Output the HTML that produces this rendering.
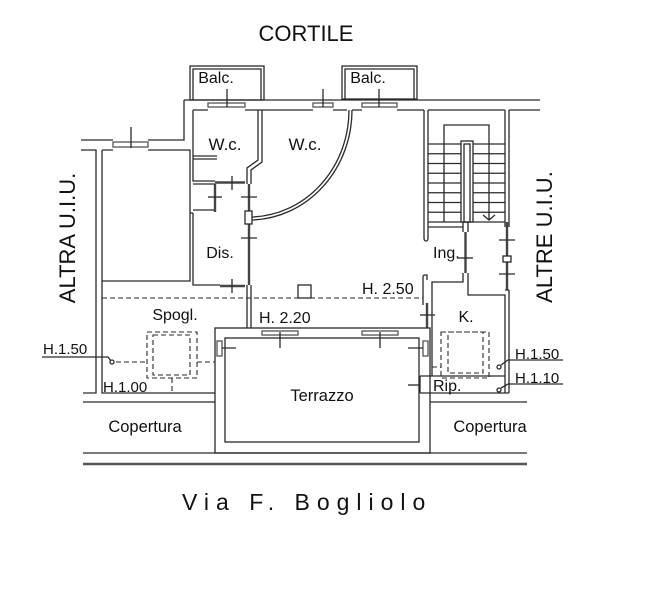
<!DOCTYPE html>
<html><head><meta charset="utf-8"><style>
html,body{margin:0;padding:0;background:#fff;}
svg{display:block;}
text{font-family:"Liberation Sans",Arial,sans-serif;fill:#111;}
</style></head><body>
<svg width="668" height="600" viewBox="0 0 668 600" xmlns="http://www.w3.org/2000/svg">
<g fill="none" stroke="#2a2a2a" stroke-width="1.3">
<!-- balconies -->
<rect x="190" y="66" width="74" height="34"/>
<path d="M193 100 V69 H261 V100"/>
<rect x="342" y="66" width="75" height="33"/>
<path d="M345 99 V69 H414 V99"/>
<!-- top wall -->
<path d="M184 100 H540"/>
<path d="M193 110 H208 M245 110 H313 M333 110 H347 M352 110 H362 M397 110 H424 M428 110 H505 M509 110 H540"/>
<rect x="208" y="103" width="37" height="4" stroke="#555"/>
<rect x="313" y="103" width="20" height="4" stroke="#555"/>
<rect x="362" y="103" width="35" height="4" stroke="#555"/>
<path d="M227 89 V107 M323 89 V107 M379 89 V107"/>
<!-- left room -->
<path d="M184 100 V140 H148 M113 140 H81 M81 150 H96 V393 H83 M102 150 H113 M148 150 H190 V281 H102 M102 150 V393 H215"/>
<rect x="113" y="142" width="35" height="5" stroke="#555"/>
<path d="M131 127 V148"/>
<!-- W.c. left -->
<path d="M193 110 V181 H215 M193 184 H215"/>
<path d="M193 156 H217 M193 159 H217"/>
<path d="M258 110 V160 L247 168 V184 M262 110 V162 L251 170 V184"/>
<path d="M215 182.5 H245" stroke="#444" stroke-width="2.4"/>
<path d="M232 176 V190"/>
<!-- Dis -->
<path d="M193 210 H215 M193 213 V285 H220 M190 213 H193"/>
<path d="M215 184 V212" stroke="#444" stroke-width="2.4"/>
<path d="M208 197 H222"/>
<path d="M249 184 V285" stroke="#444" stroke-width="2.4"/>
<path d="M241 197 H257 M241 238 H257"/>
<rect x="245" y="211" width="7" height="13" fill="#fff"/>
<path d="M220 286 H245" stroke="#444" stroke-width="2.4"/>
<path d="M232 279 V293"/>
<path d="M247 285 V328 M251 285 V328"/>
<!-- door arc -->
<path d="M349 110 A100 107 0 0 1 252 217"/>
<path d="M352 110 A103 110 0 0 1 252 220"/>
<!-- small square -->
<rect x="298" y="285" width="13" height="13"/>
<!-- stairs -->
<path d="M424 110 V238 Q424 241 426 241 Q428 241 428 238 V227 M428 110 V227 M505 110 V227 M509 110 V227"/>
<path d="M428 144 H505 M428 153.75 H505 M428 163.5 H505 M428 173.25 H505 M428 183 H505 M428 192.75 H505 M428 202.5 H505 M428 212.25 H505 M428 222 H505"/>
<path d="M444 222 V125 H489 V220"/>
<path d="M483 215 L489 220 L495 215"/>
<rect x="461" y="141" width="12" height="81" fill="#fff"/>
<rect x="464" y="144" width="6" height="78"/>
<path d="M428 227 H463 M463 222 V232 M468 222 V232"/>
<path d="M465.5 232 V273" stroke="#444" stroke-width="2.4"/>
<path d="M457 258 H473"/>
<path d="M507 222 V290" stroke="#444" stroke-width="2.4"/>
<path d="M499 240 H515 M499 274 H515"/>
<rect x="503" y="256" width="8" height="6" fill="#fff"/>
<!-- K room -->
<path d="M423 305 V277 Q423 275 425 275 H427 V280 M463 273 V282 H432 V376 M468 273 V295 H505 V393 M509 290 V393 M505 290 H509"/>
<path d="M427 303 V328" stroke="#444" stroke-width="2.4"/>
<path d="M420 315 H435"/>
<path d="M420 376 H505 M420 393 H509 M420 376 V393"/>
<path d="M408 385 H420"/>
<!-- terrazzo -->
<rect x="215" y="328" width="215" height="125"/>
<rect x="225" y="338" width="194" height="104"/>
<rect x="262" y="331" width="36" height="4" stroke="#555"/>
<rect x="362" y="331" width="36" height="4" stroke="#555"/>
<path d="M280 332 V348 M380 332 V348"/>
<rect x="217" y="341" width="5" height="15" stroke="#555"/>
<rect x="423" y="341" width="5" height="15" stroke="#555"/>
<path d="M222 348 H236 M408 348 H423"/>
<!-- copertura lines -->
<path d="M83 402 H215 M430 402 H527 M83 453 H527"/>
<path d="M83 464 H527" stroke="#555" stroke-width="2.6"/>
<!-- dashed -->
<g stroke-dasharray="5,3" stroke-width="1.1">
<path d="M102 298 H423"/>
<rect x="147" y="332" width="50" height="46"/>
<rect x="153" y="335" width="37" height="40"/>
<path d="M116 362 H147 M197 362 H215 M172 378 V392"/>
<rect x="441" y="332" width="48" height="46"/>
<rect x="448" y="332" width="35" height="41"/>
<path d="M432 367 H441"/>
</g>
<!-- leaders -->
<path d="M42 357 H108 L111 361"/>
<circle cx="112" cy="362" r="2" fill="#fff"/>
<path d="M501 365 L508 360 H563"/>
<circle cx="499" cy="367" r="2" fill="#fff"/>
<path d="M501 388 L508 384 H563"/>
<circle cx="499" cy="390" r="2" fill="#fff"/>
</g>

<!-- text -->
<text x="306" y="41" font-size="22" text-anchor="middle">CORTILE</text>
<text x="216" y="83" font-size="16" text-anchor="middle">Balc.</text>
<text x="368" y="83" font-size="16" text-anchor="middle">Balc.</text>
<text x="225" y="150" font-size="17" text-anchor="middle">W.c.</text>
<text x="305" y="150" font-size="17" text-anchor="middle">W.c.</text>
<text x="220" y="258" font-size="16" text-anchor="middle">Dis.</text>
<text x="433" y="258" font-size="16">Ing.</text>
<text x="362" y="294" font-size="16">H. 2.50</text>
<text x="259" y="323" font-size="16">H. 2.20</text>
<text x="175" y="320" font-size="16" text-anchor="middle">Spogl.</text>
<text x="466" y="322" font-size="16" text-anchor="middle">K.</text>
<text x="433" y="391" font-size="16">Rip.</text>
<text x="322" y="401" font-size="16.5" text-anchor="middle">Terrazzo</text>
<text x="43" y="354" font-size="15">H.1.50</text>
<text x="103" y="392" font-size="15">H.1.00</text>
<text x="515" y="359" font-size="15">H.1.50</text>
<text x="515" y="383" font-size="15">H.1.10</text>
<text x="145" y="432" font-size="16.5" text-anchor="middle">Copertura</text>
<text x="490" y="432" font-size="16.5" text-anchor="middle">Copertura</text>
<text transform="translate(75,238) rotate(-90)" font-size="22" text-anchor="middle">ALTRA U.I.U.</text>
<text transform="translate(552,237) rotate(-90)" font-size="22" text-anchor="middle">ALTRE U.I.U.</text>
<text x="182" y="510" font-size="23" letter-spacing="7">Via F. Bogliolo</text>
</svg>
</body></html>
